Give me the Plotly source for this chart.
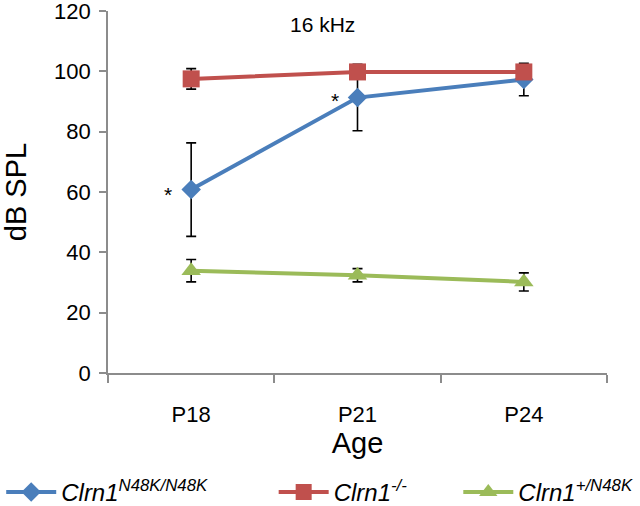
import plotly.graph_objects as go

ages = ["P18", "P21", "P24"]
knock_in = [60.8, 91.3, 97.3]
knock_in_err = [15.5, 11.0, 5.4]
knock_out = [97.5, 99.8, 99.8]
knock_out_err = [3.4, 0.0, 0.0]
het = [33.9, 32.4, 30.2]
het_err = [3.7, 2.2, 3.0]

names = ["<i>Clrn1<sup>N48K/N48K</sup></i>", "<i>Clrn1<sup>-/-</sup></i>", "<i>Clrn1<sup>+/N48K</sup></i>"]
colors = ["#4a7ebb", "#c0504d", "#9bbb59"]
symbols = ["diamond", "square", "triangle-up"]
sizes = [15, 17, 17]
legends = ["legend", "legend2", "legend3"]
legend_x = [-0.214, 0.332, 0.702]
series = [(knock_in, knock_in_err), (knock_out, knock_out_err), (het, het_err)]

fig = go.Figure()
for (vals, errs), name, col, sym, sz, lg in zip(series, names, colors, symbols, sizes, legends):
    fig.add_trace(go.Scatter(
        x=ages, y=vals, name=name, mode="lines+markers", legend=lg,
        line=dict(color=col, width=4),
        marker=dict(symbol=sym, size=sz, color=col),
        error_y=dict(type="data", array=errs, visible=True, color="black", thickness=1.6, width=5),
    ))

for age, val, dy in [("P18", knock_in[0], -5), ("P21", knock_in[1], -3)]:
    fig.add_annotation(x=age, y=val, text="*", showarrow=False, xshift=-23, yshift=dy,
                       font=dict(size=21, color="black", family="Arial"))

fig.add_annotation(x=0.429, y=0.964, xref="paper", yref="paper", text="16 kHz", showarrow=False,
                   xanchor="center", yanchor="middle",
                   font=dict(size=21, color="black", family="Arial"))

leg_common = dict(orientation="h", xanchor="left", y=-0.33, yanchor="middle", itemwidth=50,
                  font=dict(size=24, color="black", family="Arial"), bgcolor="rgba(0,0,0,0)")
layout_legends = {}
for lg, lx in zip(legends, legend_x):
    layout_legends[lg] = dict(x=lx, **leg_common)

fig.update_layout(
    width=640, height=506,
    margin=dict(l=108, r=33, t=11, b=133, autoexpand=False),
    plot_bgcolor="white", paper_bgcolor="white",
    font=dict(family="Arial", color="black"),
    showlegend=True,
    xaxis=dict(type="category", range=[-0.5, 2.5], showline=True, linecolor="#8c8c8c", linewidth=1.6,
               ticks="outside", tickson="boundaries", ticklen=8, tickcolor="#8c8c8c", tickwidth=1.6,
               tickfont=dict(size=22), showgrid=False, automargin=False, ticklabelstandoff=21,
               title=dict(text="Age", font=dict(size=29), standoff=0)),
    yaxis=dict(range=[0, 120], dtick=20, showline=True, linecolor="#8c8c8c", linewidth=1.6,
               ticks="outside", ticklen=7, tickcolor="#8c8c8c", tickwidth=1.6, tickfont=dict(size=22),
               showgrid=False, zeroline=False, automargin=False, ticklabelstandoff=4,
               ticklabeloverflow="allow",
               title=dict(text="dB SPL", font=dict(size=29), standoff=28)),
    **layout_legends,
)

fig.write_html("out.html", config={"displayModeBar": False},
               post_script="document.body.style.margin='0';")
